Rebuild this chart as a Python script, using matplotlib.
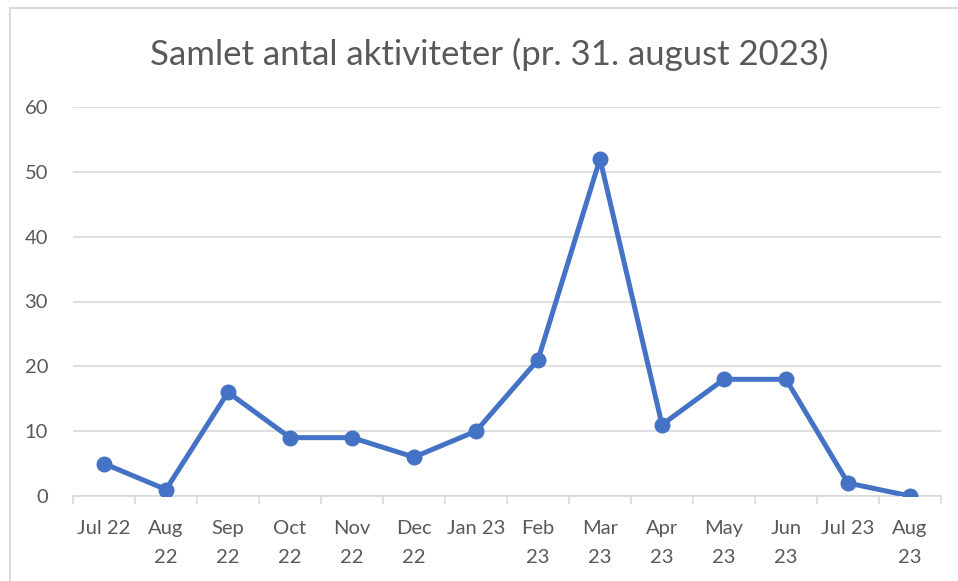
import matplotlib
matplotlib.use("Agg")
import matplotlib.pyplot as plt
from matplotlib.lines import Line2D

categories = ["Jul 22", "Aug\n22", "Sep\n22", "Oct\n22", "Nov\n22", "Dec\n22", "Jan 23",
              "Feb\n23", "Mar\n23", "Apr\n23", "May\n23", "Jun\n23", "Jul 23", "Aug\n23"]
values = [5, 1, 16, 9, 9, 6, 10, 21, 52, 11, 18, 18, 2, 0]
yticks = [0, 10, 20, 30, 40, 50, 60]
title = "Samlet antal aktiviteter (pr. 31. august 2023)"

plt.rcParams['font.family'] = ['Lato', 'DejaVu Sans']

W, H = 958, 581
fig = plt.figure(figsize=(W / 100, H / 100), dpi=100)
ax = fig.add_axes([73 / W, 1 - 496 / H, (941 - 73) / W, (496 - 107) / H])

x = list(range(len(categories)))
ax.plot(x, values, color="#4472C4", linewidth=3.6, marker="o", markersize=10.5,
        solid_capstyle="round", solid_joinstyle="round", zorder=3)

ax.set_xlim(-0.5, len(categories) - 0.5)
ax.set_ylim(0, 60)
ax.set_yticks(yticks)
ax.set_yticklabels([str(v) for v in yticks])
ax.yaxis.grid(True, color="#D9D9D9", linewidth=1.2)
ax.set_axisbelow(True)
for s in ["top", "right", "left"]:
    ax.spines[s].set_visible(False)
ax.spines["bottom"].set_color("#D9D9D9")
ax.spines["bottom"].set_linewidth(1.2)
ax.tick_params(axis="y", length=0, pad=18, labelsize=14.5, labelcolor="#595959")

ax.set_xticks(x)
ax.set_xticklabels(categories, fontsize=14.5, color="#595959", linespacing=1.9)
ax.tick_params(axis="x", which="major", length=0, pad=17)
ax.set_xticks([i - 0.5 for i in range(len(categories) + 1)], minor=True)
ax.tick_params(axis="x", which="minor", length=6, width=1.2, color="#D9D9D9")

fig.text(0.5 * (153 + 826) / W, 1 - 54 / H, title, ha="center", va="center",
         fontsize=25, color="#595959")

# chart border (left/top visible, rest cropped)
fig.add_artist(Line2D([10 / W, 10 / W], [0, 1 - 8 / H], transform=fig.transFigure,
                      color="#D9D9D9", linewidth=1.5))
fig.add_artist(Line2D([10 / W, 1], [1 - 8 / H, 1 - 8 / H], transform=fig.transFigure,
                      color="#D9D9D9", linewidth=1.5))

fig.savefig("out.png", dpi=100)
